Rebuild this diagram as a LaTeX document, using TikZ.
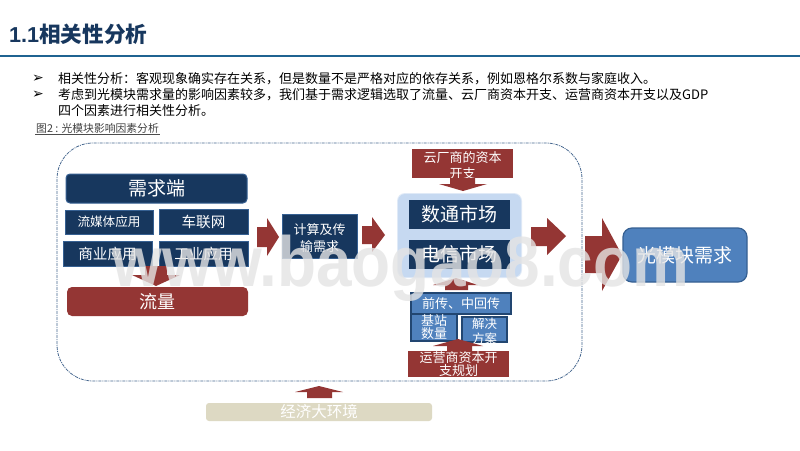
\documentclass[tikz,border=0pt]{standalone}
\usepackage{fontspec}
\setmainfont{Noto Sans CJK SC}
\newfontfamily\symf{DejaVu Sans}
\newfontfamily\latf{Liberation Sans}
\usetikzlibrary{calc}
\definecolor{navy}{HTML}{17375E}
\definecolor{maroon}{HTML}{943634}
\definecolor{midblue}{HTML}{4F81BD}
\definecolor{edgeblue}{HTML}{366092}
\definecolor{rulecol}{HTML}{1F6391}
\definecolor{paleblue}{HTML}{C6D9F1}
\definecolor{sand}{HTML}{DDD9C3}
\definecolor{markcol}{HTML}{E4E4E4}
\newcommand{\fs}[2]{\fontsize{#1}{#2}\selectfont}
\tikzset{
  boxbase/.style={inner sep=0pt,text=white,align=center,line width=1pt},
  navybox/.style={boxbase,fill=navy,draw=edgeblue},
  navyflat/.style={boxbase,fill=navy},
  redbox/.style={boxbase,fill=maroon},
  bluebox/.style={boxbase,fill=midblue,draw=navy!80!midblue,line width=1.2pt},
  lbl/.style={inner sep=0pt,text=white,align=center},
  body/.style={inner sep=0pt,anchor=west,text=black,font=\fs{13}{13}},
  bul/.style={inner sep=0pt,anchor=west,text=black,font=\symf\fs{14}{14}},
  blockarrow/.style={fill=maroon,draw=none}
}
\begin{document}
\begin{tikzpicture}[x=1pt,y=-1pt]
\useasboundingbox (0,0) rectangle (800,450);
\fill[white] (0,0) rectangle (800,450);
% heading
\node[inner sep=0pt,anchor=west,text=navy,font=\bfseries\fs{21.6}{22}] (title) at (9,34) {{\latf\bfseries 1.1}相关性分析};
\coordinate (ruleL) at (0,56); \coordinate (ruleR) at (800,56);
\draw[line width=2pt,color=rulecol] (ruleL) -- (ruleR);
% bullets and body
\node[bul] (b1) at (32,79) {➢};
\node[bul] (b2) at (32,95) {➢};
\node[body] (t1) at (58,79) {相关性分析：客观现象确实存在关系，但是数量不是严格对应的依存关系，例如恩格尔系数与家庭收入。};
\node[body] (t2) at (58,95) {考虑到光模块需求量的影响因素较多，我们基于需求逻辑选取了流量、云厂商资本开支、运营商资本开支以及GDP};
\node[body] (t3) at (58,111) {四个因素进行相关性分析。};
\node[inner sep=1pt,anchor=west,text=black!75,font=\fs{10.8}{11}] (cap) at (35,128) {图2 : 光模块影响因素分析};
\draw[black!70,line width=.6pt] (cap.south west) -- (cap.south east);
% dashed frame
\draw[color=edgeblue!80!gray,line width=.8pt,dash pattern=on 3pt off 1pt on 1pt off 1pt,rounded corners=36pt] (57,143) rectangle (582,381);
% demand side
\node[navybox,rounded corners=4pt,minimum width=181pt,minimum height=29pt,font=\fs{19}{19}] (need) at (156.5,188.5) {需求端};
\node[navybox,minimum width=88pt,minimum height=24pt,font=\fs{12.6}{13}] (stream) at (109,222) {流媒体应用};
\node[navybox,minimum width=89pt,minimum height=25pt,font=\fs{14.6}{15}] (car) at (203.5,221.5) {车联网};
\node[navybox,minimum width=89pt,minimum height=25pt,font=\fs{14.6}{15}] (biz) at (107.5,253.5) {商业应用};
\node[navybox,minimum width=89pt,minimum height=25pt,font=\fs{14.6}{15}] (ind) at (203.5,253.5) {工业应用};
\node[redbox,rounded corners=5pt,minimum width=181pt,minimum height=29pt,font=\fs{18}{18}] (flow) at (157.5,301.5) {流量};
% compute
\node[navybox,minimum width=75pt,minimum height=44pt] (comp) at (319.5,236) {};
\node[lbl,font=\fs{13}{17}] (compt) at (319.5,238.5) {计算及传\\输需求};
% market
\fill[paleblue!55!white,rounded corners=8pt] (397,193) rectangle (522,278);
\node[minimum width=123pt,minimum height=83pt,inner sep=0pt,fill=paleblue,rounded corners=7pt] (market) at (459.5,235.5) {};
\node[navyflat,minimum width=101pt,minimum height=29pt,font=\fs{19}{19}] (dc) at (459.5,214.5) {数通市场};
\node[navyflat,minimum width=101pt,minimum height=29pt,font=\fs{19}{19}] (tel) at (459.5,254.5) {电信市场};
% cloud capex
\node[redbox,minimum width=101pt,minimum height=29pt] (cloud) at (462.5,163.5) {};
\node[lbl,font=\fs{13}{16}] (cloudt) at (462.5,166) {云厂商的资本\\开支};
% access
\node[bluebox,minimum width=100pt,minimum height=21pt,font=\fs{13}{13}] (front) at (461,303.5) {前传、中回传};
\node[bluebox,minimum width=46pt,minimum height=27pt] (bs) at (434,327.5) {};
\node[lbl,font=\fs{13}{11.5}] (bst) at (434,327.5) {基站\\数量};
\node[bluebox,minimum width=45pt,minimum height=25pt] (sol) at (484.5,329.5) {};
\node[lbl,font=\fs{12.5}{15.5}] (solt) at (484.5,331.5) {解决\\方案};
\node[redbox,minimum width=101pt,minimum height=26pt] (op) at (458.5,364) {};
\node[lbl,font=\fs{13}{12}] (opt) at (458.5,364) {运营商资本开\\支规划};
% demand target
\node[boxbase,fill=midblue,draw=edgeblue,line width=1.2pt,rounded corners=9pt,minimum width=124pt,minimum height=54pt,font=\fs{19}{19}] (target) at (685,255) {光模块需求};
% macro
\node[boxbase,fill=sand,rounded corners=3pt,minimum width=226pt,minimum height=18pt,font=\fs{15.5}{16}] (eco) at (319,412) {经济大环境};
% block arrows
\fill[blockarrow] (145,266) -- (167,266) -- (167,275) -- (180,275) -- (156,286) -- (132,275) -- (145,275) -- cycle;
\fill[blockarrow] (257,227) -- (267,227) -- (267,218) -- (279,237) -- (267,256) -- (267,247) -- (257,247) -- cycle;
\fill[blockarrow] (362,226) -- (372,226) -- (372,217) -- (385,235) -- (372,252) -- (372,244) -- (362,244) -- cycle;
\fill[blockarrow] (450,178) -- (475,178) -- (475,184) -- (487,184) -- (463,191) -- (439,184) -- (450,184) -- cycle;
\fill[blockarrow] (445,290) -- (468,290) -- (468,285) -- (478,285) -- (456,278) -- (433,285) -- (445,285) -- cycle;
\fill[blockarrow] (447,351) -- (472,351) -- (472,346) -- (483,346) -- (458,339) -- (433,346) -- (447,346) -- cycle;
\fill[blockarrow] (307,398) -- (332,398) -- (332,392) -- (343,392) -- (319,386) -- (295,392) -- (307,392) -- cycle;
\fill[blockarrow] (531,227) -- (547,227) -- (547,218) -- (566,236) -- (547,255) -- (547,246) -- (531,246) -- cycle;
\fill[blockarrow] (585,236) -- (602,236) -- (602,218) -- (622,255) -- (602,291) -- (602,273) -- (585,273) -- cycle;
% watermark
\node[inner sep=0pt,anchor=base,text=markcol,text opacity=.8,font=\latf\bfseries\fs{71}{71}] (mark) at (401,286) {\scalebox{.9}[1]{www.baogao8.com}};
\end{tikzpicture}
\end{document}
